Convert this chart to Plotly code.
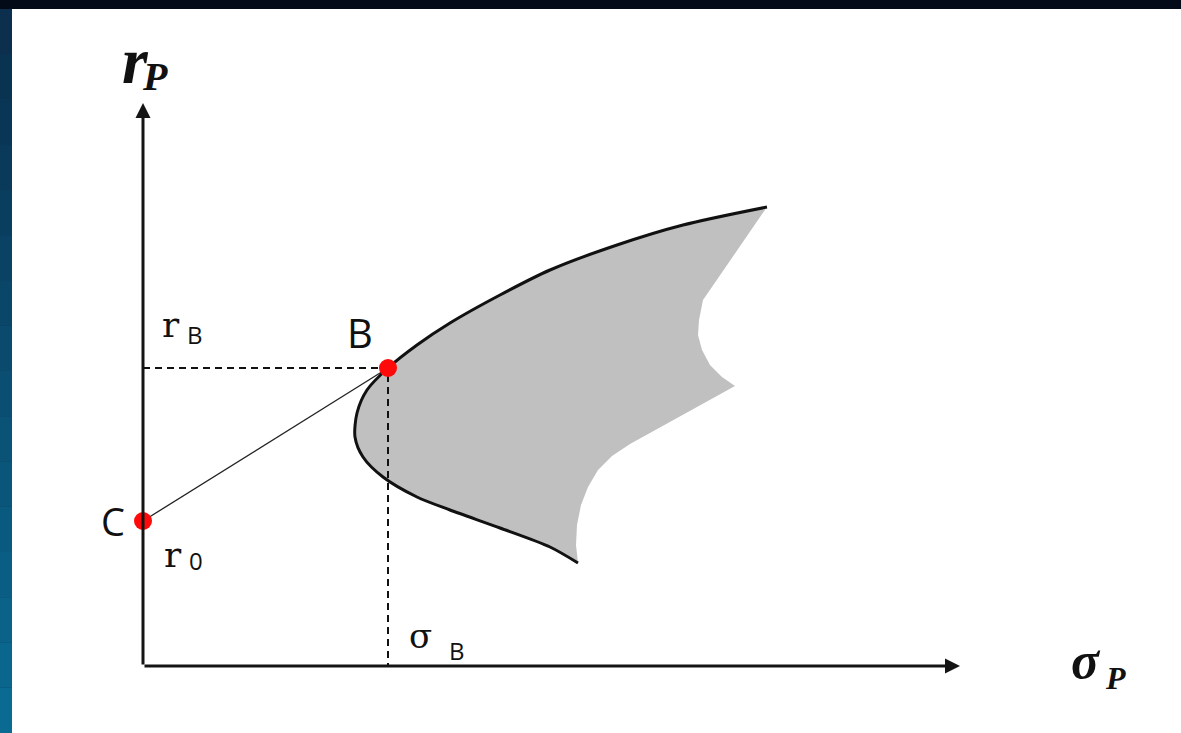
import plotly.graph_objects as go

# efficient frontier (upper tip -> nose -> lower tip), sigma_p / r_p in chart units
frontier_sigma = [15.6, 13.5, 11.85, 10.175, 8.925, 7.675, 6.85, 6.125, 5.6, 5.35,
                  5.3, 5.5, 6.0, 6.85, 7.675, 8.925, 10.175, 10.875]
frontier_r = [11.475, 11.025, 10.525, 9.9, 9.275, 8.575, 8.025, 7.45, 6.9, 6.325,
              5.725, 5.225, 4.725, 4.225, 3.9, 3.45, 2.975, 2.575]

# right edge of the feasible set (lower tip -> upper tip)
edge_sigma = [10.875, 10.825, 10.85, 10.95, 11.125, 11.375, 11.725, 12.175, 12.8, 13.5,
              14.8, 14.475, 14.175, 13.975, 13.875, 13.9, 14.0, 15.6]
edge_r = [2.575, 3.025, 3.525, 4.025, 4.475, 4.9, 5.25, 5.55, 5.9, 6.275,
          7.0, 7.225, 7.525, 7.9, 8.275, 8.65, 9.15, 11.475]

point_names = ["C", "B"]
point_sigma = [0.0, 6.125]
point_r = [3.625, 7.45]

axis_x_end = 20.425
axis_y_end = 14.075

fig = go.Figure()

# shaded feasible region
fig.add_scatter(
    x=frontier_sigma + edge_sigma, y=frontier_r + edge_r,
    fill="toself", fillcolor="#c0c0c0", mode="lines",
    line=dict(width=0, color="#c0c0c0"), hoverinfo="skip", showlegend=False,
)
# frontier line
fig.add_scatter(
    x=frontier_sigma, y=frontier_r, mode="lines",
    line=dict(color="#111111", width=3, shape="spline", smoothing=0.8),
    hoverinfo="skip", showlegend=False,
)
# capital market line C -> B
fig.add_scatter(
    x=point_sigma, y=point_r, mode="lines",
    line=dict(color="#222222", width=1.3), hoverinfo="skip", showlegend=False,
)
# dashed guides from B
fig.add_scatter(
    x=[0, point_sigma[1], point_sigma[1]], y=[point_r[1], point_r[1], 0], mode="lines",
    line=dict(color="#111111", width=2, dash="7px,5px"),
    hoverinfo="skip", showlegend=False,
)
# points
fig.add_scatter(
    x=point_sigma, y=point_r, mode="markers", text=point_names,
    marker=dict(color="#ff0a0a", size=18), hoverinfo="text", showlegend=False,
)

# axes with arrows
for tx, ty in [(axis_x_end, 0), (0, axis_y_end)]:
    fig.add_annotation(
        x=tx, y=ty, ax=0, ay=0, xref="x", yref="y", axref="x", ayref="y",
        text="", showarrow=True, arrowhead=2, arrowsize=1, arrowwidth=3,
        arrowcolor="#141414",
    )

serif = "Liberation Serif"
slab = "DejaVu Serif"
sans = "Open Sans"
labels = [
    # text, x, y, family, size
    ("<b><i>r</i></b>", -0.2, 15.15, serif, 66),
    ("<b><i>P</i></b>", 0.3, 14.75, serif, 40),
    ("<b><i>σ</i></b>", 23.575, 0.15, serif, 52),
    ("<b><i>P</i></b>", 24.3, -0.3, serif, 32),
    ("r", 0.7, 8.55, slab, 36),
    ("B", 1.3, 8.3, sans, 24),
    ("B", 5.425, 8.35, sans, 40),
    ("C", -0.75, 3.625, sans, 38),
    ("r", 0.75, 2.8, slab, 36),
    ("0", 1.325, 2.65, sans, 24),
    ("σ", 6.925, 0.75, slab, 34),
    ("B", 7.85, 0.4, sans, 24),
]
for txt, lx, ly, fam, sz in labels:
    fig.add_annotation(
        x=lx, y=ly, xref="x", yref="y", text=txt, showarrow=False,
        xanchor="center", yanchor="middle",
        font=dict(family=fam, size=sz, color="#111111"),
    )

# slide frame: dark top strip and blue left strip
shapes = [dict(type="rect", xref="paper", yref="paper", x0=-12 / 1169, x1=1.01,
               y0=1, y1=1 + 10 / 724, fillcolor="#030a18", line_width=0, layer="below")]
n = 16
for i in range(n):
    t = i / (n - 1)
    c = (int(11 + (10 - 11) * t), int(47 + (106 - 47) * t), int(77 + (146 - 77) * t))
    shapes.append(dict(type="rect", xref="paper", yref="paper", x0=-12 / 1169, x1=0,
                       y0=1 - i / n, y1=1 - (i + 1) / n,
                       fillcolor="rgb(%d,%d,%d)" % c, line_width=0, layer="below"))

fig.update_layout(
    width=1181, height=733,
    margin=dict(l=12, r=0, t=9, b=0),
    paper_bgcolor="#0b3a5e", plot_bgcolor="white",
    xaxis=dict(range=[-3.275, 25.95], visible=False, fixedrange=True),
    yaxis=dict(range=[-1.675, 16.425], visible=False, fixedrange=True),
    shapes=shapes, showlegend=False,
)

fig.write_html(
    "out.html",
    config={"displayModeBar": False},
    post_script="document.body.style.margin='0';document.body.style.overflow='hidden';",
)
